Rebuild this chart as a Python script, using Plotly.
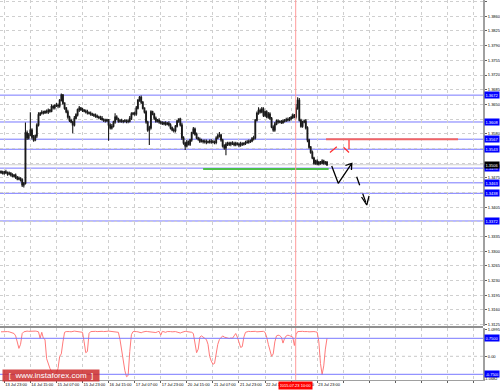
import plotly.graph_objects as go

# ---------------- data (prices in pips above 1.3000) ----------------
open_first = 490
close_pips = [
    488, 486, 489, 487, 484, 486, 482, 479, 481, 476,
    472, 474, 470, 458, 462, 582, 570, 577, 589, 572,
    565, 575, 601, 625, 629, 631, 630, 633, 632, 636,
    634, 645, 642, 647, 648, 646, 660, 672, 653, 641,
    632, 620, 612, 608, 601, 617, 625, 637, 641, 638,
    636, 634, 632, 630, 629, 627, 625, 624, 622, 620,
    619, 617, 614, 612, 611, 613, 601, 594, 598, 608,
    620, 615, 610, 611, 609, 610, 611, 609, 610, 617,
    627, 629, 627, 641, 660, 667, 655, 641, 632, 608,
    589, 594, 632, 627, 617, 610, 612, 608, 606, 604,
    606, 603, 605, 601, 594, 589, 587, 598, 610, 615,
    601, 570, 558, 551, 560, 555, 565, 582, 591, 579,
    570, 567, 562, 563, 561, 562, 560, 561, 562, 560,
    561, 559, 570, 575, 577, 565, 551, 546, 555, 557,
    555, 558, 556, 554, 557, 555, 553, 556, 555, 557,
    559, 560, 562, 563, 568, 570, 612, 629, 636, 632,
    639, 624, 632, 620, 627, 617, 596, 589, 603, 610,
    608, 609, 607, 610, 612, 614, 613, 616, 619, 624,
    620, 641, 660, 612, 598, 608, 610, 594, 565, 548,
    536, 522, 510, 515, 508, 512, 510, 515, 510, 512,
    506,
]
upper_wick = [
    3, 4, 2, 5, 3, 4, 2, 4, 3, 4,
    3, 4, 2, 4, 3, 25, 6, 5, 42, 4,
    5, 3, 4, 6, 3, 5, 4, 3, 5, 4,
    3, 5, 4, 3, 5, 4, 3, 4, 3, 2,
    3, 5, 3, 4, 3, 5, 4, 3, 5, 3,
    4, 3, 4, 5, 3, 4, 3, 3, 4, 4,
    3, 4, 5, 3, 4, 3, 2, 4, 5, 3,
    9, 4, 3, 4, 5, 3, 4, 3, 4, 5,
    4, 3, 4, 5, 3, 3, 4, 3, 2, 4,
    3, 5, 4, 3, 3, 4, 3, 5, 3, 4,
    3, 4, 3, 5, 4, 3, 4, 3, 3, 2,
    3, 5, 4, 3, 5, 4, 3, 3, 5, 4,
    4, 3, 4, 5, 3, 4, 4, 3, 4, 5,
    4, 3, 4, 5, 7, 3, 3, 4, 5, 4,
    4, 3, 4, 5, 4, 3, 4, 5, 4, 3,
    4, 5, 4, 3, 4, 5, 3, 4, 7, 4,
    5, 4, 3, 4, 5, 4, 3, 4, 5, 4,
    4, 3, 4, 4, 3, 4, 5, 4, 3, 4,
    3, 10, 7, 5, 4, 3, 4, 5, 4, 3,
    3, 4, 3, 3, 4, 3, 3, 4, 3, 3,
    3,
]
lower_wick = [
    4, 3, 4, 3, 4, 3, 4, 3, 3, 4,
    3, 3, 4, 5, 6, 3, 5, 4, 3, 5,
    4, 3, 5, 4, 3, 3, 4, 3, 4, 5,
    4, 3, 4, 4, 3, 5, 4, 3, 4, 4,
    3, 4, 4, 3, 20, 4, 3, 4, 5, 4,
    4, 3, 4, 4, 3, 4, 3, 4, 4, 3,
    4, 4, 3, 4, 4, 3, 38, 4, 4, 3,
    4, 3, 4, 4, 3, 4, 3, 4, 4, 3,
    4, 3, 4, 4, 3, 4, 4, 3, 4, 4,
    4, 36, 4, 3, 4, 4, 3, 4, 4, 3,
    4, 4, 3, 4, 4, 3, 4, 4, 3, 4,
    4, 5, 4, 10, 4, 3, 4, 4, 3, 4,
    3, 4, 4, 3, 4, 4, 5, 3, 4, 4,
    3, 4, 4, 3, 4, 4, 4, 4, 17, 4,
    4, 5, 3, 4, 4, 3, 5, 4, 4, 3,
    4, 3, 4, 4, 3, 4, 4, 3, 4, 4,
    3, 4, 4, 3, 4, 4, 3, 4, 4, 3,
    4, 3, 4, 4, 3, 4, 4, 3, 4, 4,
    3, 4, 4, 3, 4, 4, 3, 4, 5, 4,
    4, 3, 4, 4, 3, 4, 4, 3, 4, 4,
    3,
]
# oscillator values in hundredths
osc_hundredths = [
    102, 103, 101, 102, 103, 102, 100, 98, 95,
    85,
    55, 33, 50,
    95, 102, 104, 105, 104, 105, 103, 104, 105, 104, 102,
    75, 100, 75, 70,
    -10, -33, -50,
    -65, -70, -75, -72, -50,
    0, 10, 60, 100,
    103, 104, 103, 102, 104, 105, 104, 103, 104, 102, 100,
    60, 15, 20,
    95,
    103, 104, 105, 104, 103, 104, 105, 104, 103, 102, 104, 105, 104, 103, 104, 103, 102, 100,
    70, 20, -30, -60, -85, -80,
    20, 90,
    103, 104, 103, 102, 100, 98, 101, 103, 104, 103,
    102, 104, 103, 101, 99, 102, 104, 88, 104, 102,
    100, 103, 104, 103, 102, 104, 103, 101, 99, 97,
    100, 103, 104, 103, 102, 101, 100, 95,
    60, 15, 30, 80,
    85, 80, 75, 70,
    50, 0, -20, -33, -30, 20,
    50, 70,
    80, 85, 80, 78,
    75, 74, 76, 75,
    85, 95, 80, 60,
    37, 40, 80,
    100, 103, 104, 103, 104, 103, 104, 102, 103, 104, 103, 104, 100,
    80, 50, 20, 0, 10,
    60, 85, 88, 86, 80,
    55, 75,
    85, 88, 86, 84,
    80, 45,
    90, 103, 104, 103, 104, 103, 104, 103, 102, 103, 104, 103, 102, 100,
    60, -30, -76,
    -40, 30, 75,
]

price_ticks = [1.3125, 1.3160, 1.3195, 1.3230, 1.3265, 1.3300, 1.3335, 1.3370,
               1.3405, 1.3440, 1.3475, 1.3510, 1.3545, 1.3580, 1.3615, 1.3650,
               1.3685, 1.3720, 1.3755, 1.3790, 1.3825, 1.3860, 1.3895]
time_labels = ["13 Jul 23:00", "14 Jul 15:00", "15 Jul 07:00", "15 Jul 23:00",
               "16 Jul 15:00", "17 Jul 07:00", "17 Jul 23:00", "20 Jul 15:00",
               "21 Jul 07:00", "21 Jul 23:00", "22 Jul 15:00", "23 Jul 07:00",
               "23 Jul 23:00"]
blue_levels = [1.3672, 1.3608, 1.3567, 1.3543, 1.3498, 1.3463, 1.3438, 1.3372]
osc_levels = [0.75, -0.75]
osc_ticks = [1.0995, 0.0]
osc_tick_text = ["1.0995", "0.00"]
osc_min_label = "-1.0682"

support_level = 1.3496          # green line
support_bars = [124, 201]
resist_level = 1.3567           # red line
resist_bars = [199.4, 280.4]
marker_bar = 180.8
marker_label = "2015.07.23 10:00"

red_path_bars = [201.8, 208.0, 213.5]
red_path_price = [1.35353, 1.35555, 1.35353]
red_head_bars = [213.5, 213.5]
red_head_price = [1.35651, 1.35353]
blk_path_bars = [202.9, 206.9, 215.2]
blk_path_price = [1.35031, 1.34618, 1.35095]
blk_head_bars = [211.3, 215.2, 215.0]
blk_head_price = [1.35043, 1.35095, 1.34936]
dash_path_bars = [218.2, 224.4]
dash_path_price = [1.34776, 1.34101]
dash_head_bars = [221.2, 224.4, 225.8]
dash_head_price = [1.34292, 1.34101, 1.34316]

# ---------------- derived OHLC ----------------
base = 1.3
closes = [base + v / 10000 for v in close_pips]
opens = [base + open_first / 10000] + closes[:-1]
highs = [max(o, c) + w / 10000 for o, c, w in zip(opens, closes, upper_wick)]
lows = [min(o, c) - w / 10000 for o, c, w in zip(opens, closes, lower_wick)]
bars = list(range(len(closes)))
osc = [v / 100 for v in osc_hundredths]
osc_x = list(range(len(osc)))

FONT = "Liberation Sans"
W, H = 500, 390
MR, MB = 17, 10
PH = H - MB  # plot height 380

fig = go.Figure()
fig.add_trace(go.Candlestick(
    x=bars, open=opens, high=highs, low=lows, close=closes,
    increasing=dict(line=dict(color="#1a1a1a", width=1.1), fillcolor="#ffffff"),
    decreasing=dict(line=dict(color="#1a1a1a", width=1.1), fillcolor="#1a1a1a"),
    whiskerwidth=0, xaxis="x", yaxis="y", hoverinfo="skip", showlegend=False))

# level lines
shapes = []
for lv in blue_levels:
    shapes.append(dict(type="line", xref="paper", x0=0, x1=1, yref="y", y0=lv, y1=lv,
                       line=dict(color="#7878ff", width=1), layer="below"))
shapes.append(dict(type="line", xref="paper", x0=0, x1=1, yref="y",
                   y0=closes[-1], y1=closes[-1], line=dict(color="#d0d0d0", width=1), layer="below"))
for lv in osc_levels:
    shapes.append(dict(type="line", xref="paper", x0=0, x1=1, yref="y2", y0=lv, y1=lv,
                       line=dict(color="#7878ff", width=1)))
shapes.append(dict(type="line", xref="paper", x0=0, x1=1, yref="y2", y0=0, y1=0,
                   line=dict(color="#c8c8c8", width=1, dash="dot"), layer="below"))
# red vertical marker
shapes.append(dict(type="line", xref="x", x0=marker_bar, x1=marker_bar, yref="paper", y0=0, y1=1,
                   line=dict(color="#ff9a9a", width=1)))
# separator between panes
sep_y = (PH - 327) / PH
shapes.append(dict(type="line", xref="paper", x0=0, x1=1, yref="paper", y0=sep_y, y1=sep_y,
                   line=dict(color="#909090", width=2)))

fig.add_trace(go.Scatter(x=support_bars, y=[support_level] * 2, mode="lines",
                         line=dict(color="#4cbf4c", width=2), xaxis="x", yaxis="y",
                         hoverinfo="skip", showlegend=False))
fig.add_trace(go.Scatter(x=resist_bars, y=[resist_level] * 2, mode="lines",
                         line=dict(color="#f06464", width=2), xaxis="x", yaxis="y",
                         hoverinfo="skip", showlegend=False))
for xs, ys, col, dash, wd in [
    (red_path_bars, red_path_price, "#ff3030", "dash", 1.2),
    (red_head_bars, red_head_price, "#ff3030", "dash", 1.2),
    (blk_path_bars, blk_path_price, "#000000", "solid", 1.3),
    (blk_head_bars, blk_head_price, "#000000", "solid", 1.3),
    (dash_path_bars, dash_path_price, "#000000", "dash", 1.3),
    (dash_head_bars, dash_head_price, "#000000", "solid", 1.3),
]:
    fig.add_trace(go.Scatter(x=xs, y=ys, mode="lines", line=dict(color=col, width=wd, dash=dash),
                             xaxis="x", yaxis="y", hoverinfo="skip", showlegend=False))

fig.add_trace(go.Scatter(x=osc_x, y=osc, mode="lines", line=dict(color="#ff7a7a", width=1),
                         xaxis="x2", yaxis="y2", hoverinfo="skip", showlegend=False))

# axis geometry
x_range = [-1 / 1.63, (483 - 1) / 1.63]
k = 4194.8  # px per price unit
y_top = 1.3895 + 1.6 / k
y_bot = 1.3895 - (326 - 1.6) / k
grid_vals = [2 + 16 * j for j in range(19)]
grid_text = time_labels + [""] * (len(grid_vals) - len(time_labels))

# tick labels that sit underneath a level badge are hidden by it
covered = list(blue_levels) + [closes[-1]]
price_text = ["" if any(abs(t - c) * k < 5 for c in covered) else f"{t:.4f}" for t in price_ticks]

axis_font = dict(family=FONT, size=4, color="#000000")
fig.update_layout(
    width=W, height=H, margin=dict(l=0, r=MR, t=0, b=MB),
    paper_bgcolor="#ffffff", plot_bgcolor="#ffffff",
    font=dict(family=FONT, size=4, color="#000000"),
    showlegend=False, shapes=shapes,
    xaxis=dict(domain=[0, 1], range=x_range, anchor="y", rangeslider=dict(visible=False),
               showticklabels=False, ticks="", tickvals=grid_vals, showgrid=True,
               gridcolor="#cfcfcf", griddash="dot", gridwidth=1, zeroline=False, showline=False),
    xaxis2=dict(domain=[0, 1], range=x_range, anchor="y2", matches="x",
                tickvals=grid_vals, ticktext=grid_text, tickfont=axis_font, tickangle=0,
                ticklabelposition="outside right", ticks="outside", ticklen=2,
                tickcolor="#606060", showgrid=True, gridcolor="#cfcfcf", griddash="dot",
                zeroline=False, showline=True, linecolor="#a0a0a0", linewidth=1),
    yaxis=dict(domain=[(PH - 326) / PH, 1], range=[y_bot, y_top], side="right", anchor="x",
               tickvals=price_ticks, ticktext=price_text,
               tickfont=axis_font, ticks="outside", ticklen=2, tickcolor="#606060",
               showgrid=True, gridcolor="#cfcfcf", griddash="dot", zeroline=False,
               showline=True, linecolor="#a0a0a0", linewidth=2),
    yaxis2=dict(domain=[0, (PH - 328) / PH], range=[(356.3 - 380) / 24, (356.3 - 328) / 24],
                side="right", anchor="x2", tickvals=osc_ticks, ticktext=osc_tick_text,
                tickfont=axis_font, ticks="outside", ticklen=2, tickcolor="#606060",
                showgrid=False, zeroline=False, showline=True, linecolor="#a0a0a0", linewidth=2),
)

ann = []
lab_font = dict(family=FONT, size=4, color="#ffffff")
for lv in blue_levels:
    ann.append(dict(xref="paper", x=1, xanchor="left", xshift=1, yref="y", y=lv,
                    text=f"{lv:.4f}", showarrow=False, font=lab_font, bgcolor="#0000ff",
                    borderpad=0.5, width=13, align="left"))
ann.append(dict(xref="paper", x=1, xanchor="left", xshift=1, yref="y", y=closes[-1],
                text=f"{closes[-1]:.4f}", showarrow=False, font=lab_font, bgcolor="#000000",
                borderpad=0.5, width=13, align="left"))
for lv in osc_levels:
    ann.append(dict(xref="paper", x=1, xanchor="left", xshift=1, yref="y2", y=lv,
                    text=f"{lv:.4f}", showarrow=False, font=lab_font, bgcolor="#0000ff",
                    borderpad=0.5, width=13, align="left"))
ann.append(dict(xref="paper", x=1, xanchor="left", xshift=0, yref="paper", y=(PH - 378.6) / PH,
                yanchor="middle", text=osc_min_label, showarrow=False, font=axis_font,
                borderpad=0))
ann.append(dict(xref="x2", x=marker_bar, xanchor="center", yref="paper", y=(PH - 385) / PH,
                yanchor="middle", text=marker_label, showarrow=False,
                font=dict(family=FONT, size=4, color="#ffffff"), bgcolor="#ff0000",
                borderpad=1, width=31))
ann.append(dict(xref="paper", x=1.7 / 483, xanchor="left", yref="paper", y=(PH - 375.5) / PH,
                yanchor="middle", text="[  www.instaforex.com  ]", showarrow=False,
                font=dict(family=FONT, size=8, color="#ffffff"),
                bgcolor="rgba(205,45,45,0.85)", width=96, height=11, borderpad=0))
fig.update_layout(annotations=ann)

fig.write_html("out.html")
